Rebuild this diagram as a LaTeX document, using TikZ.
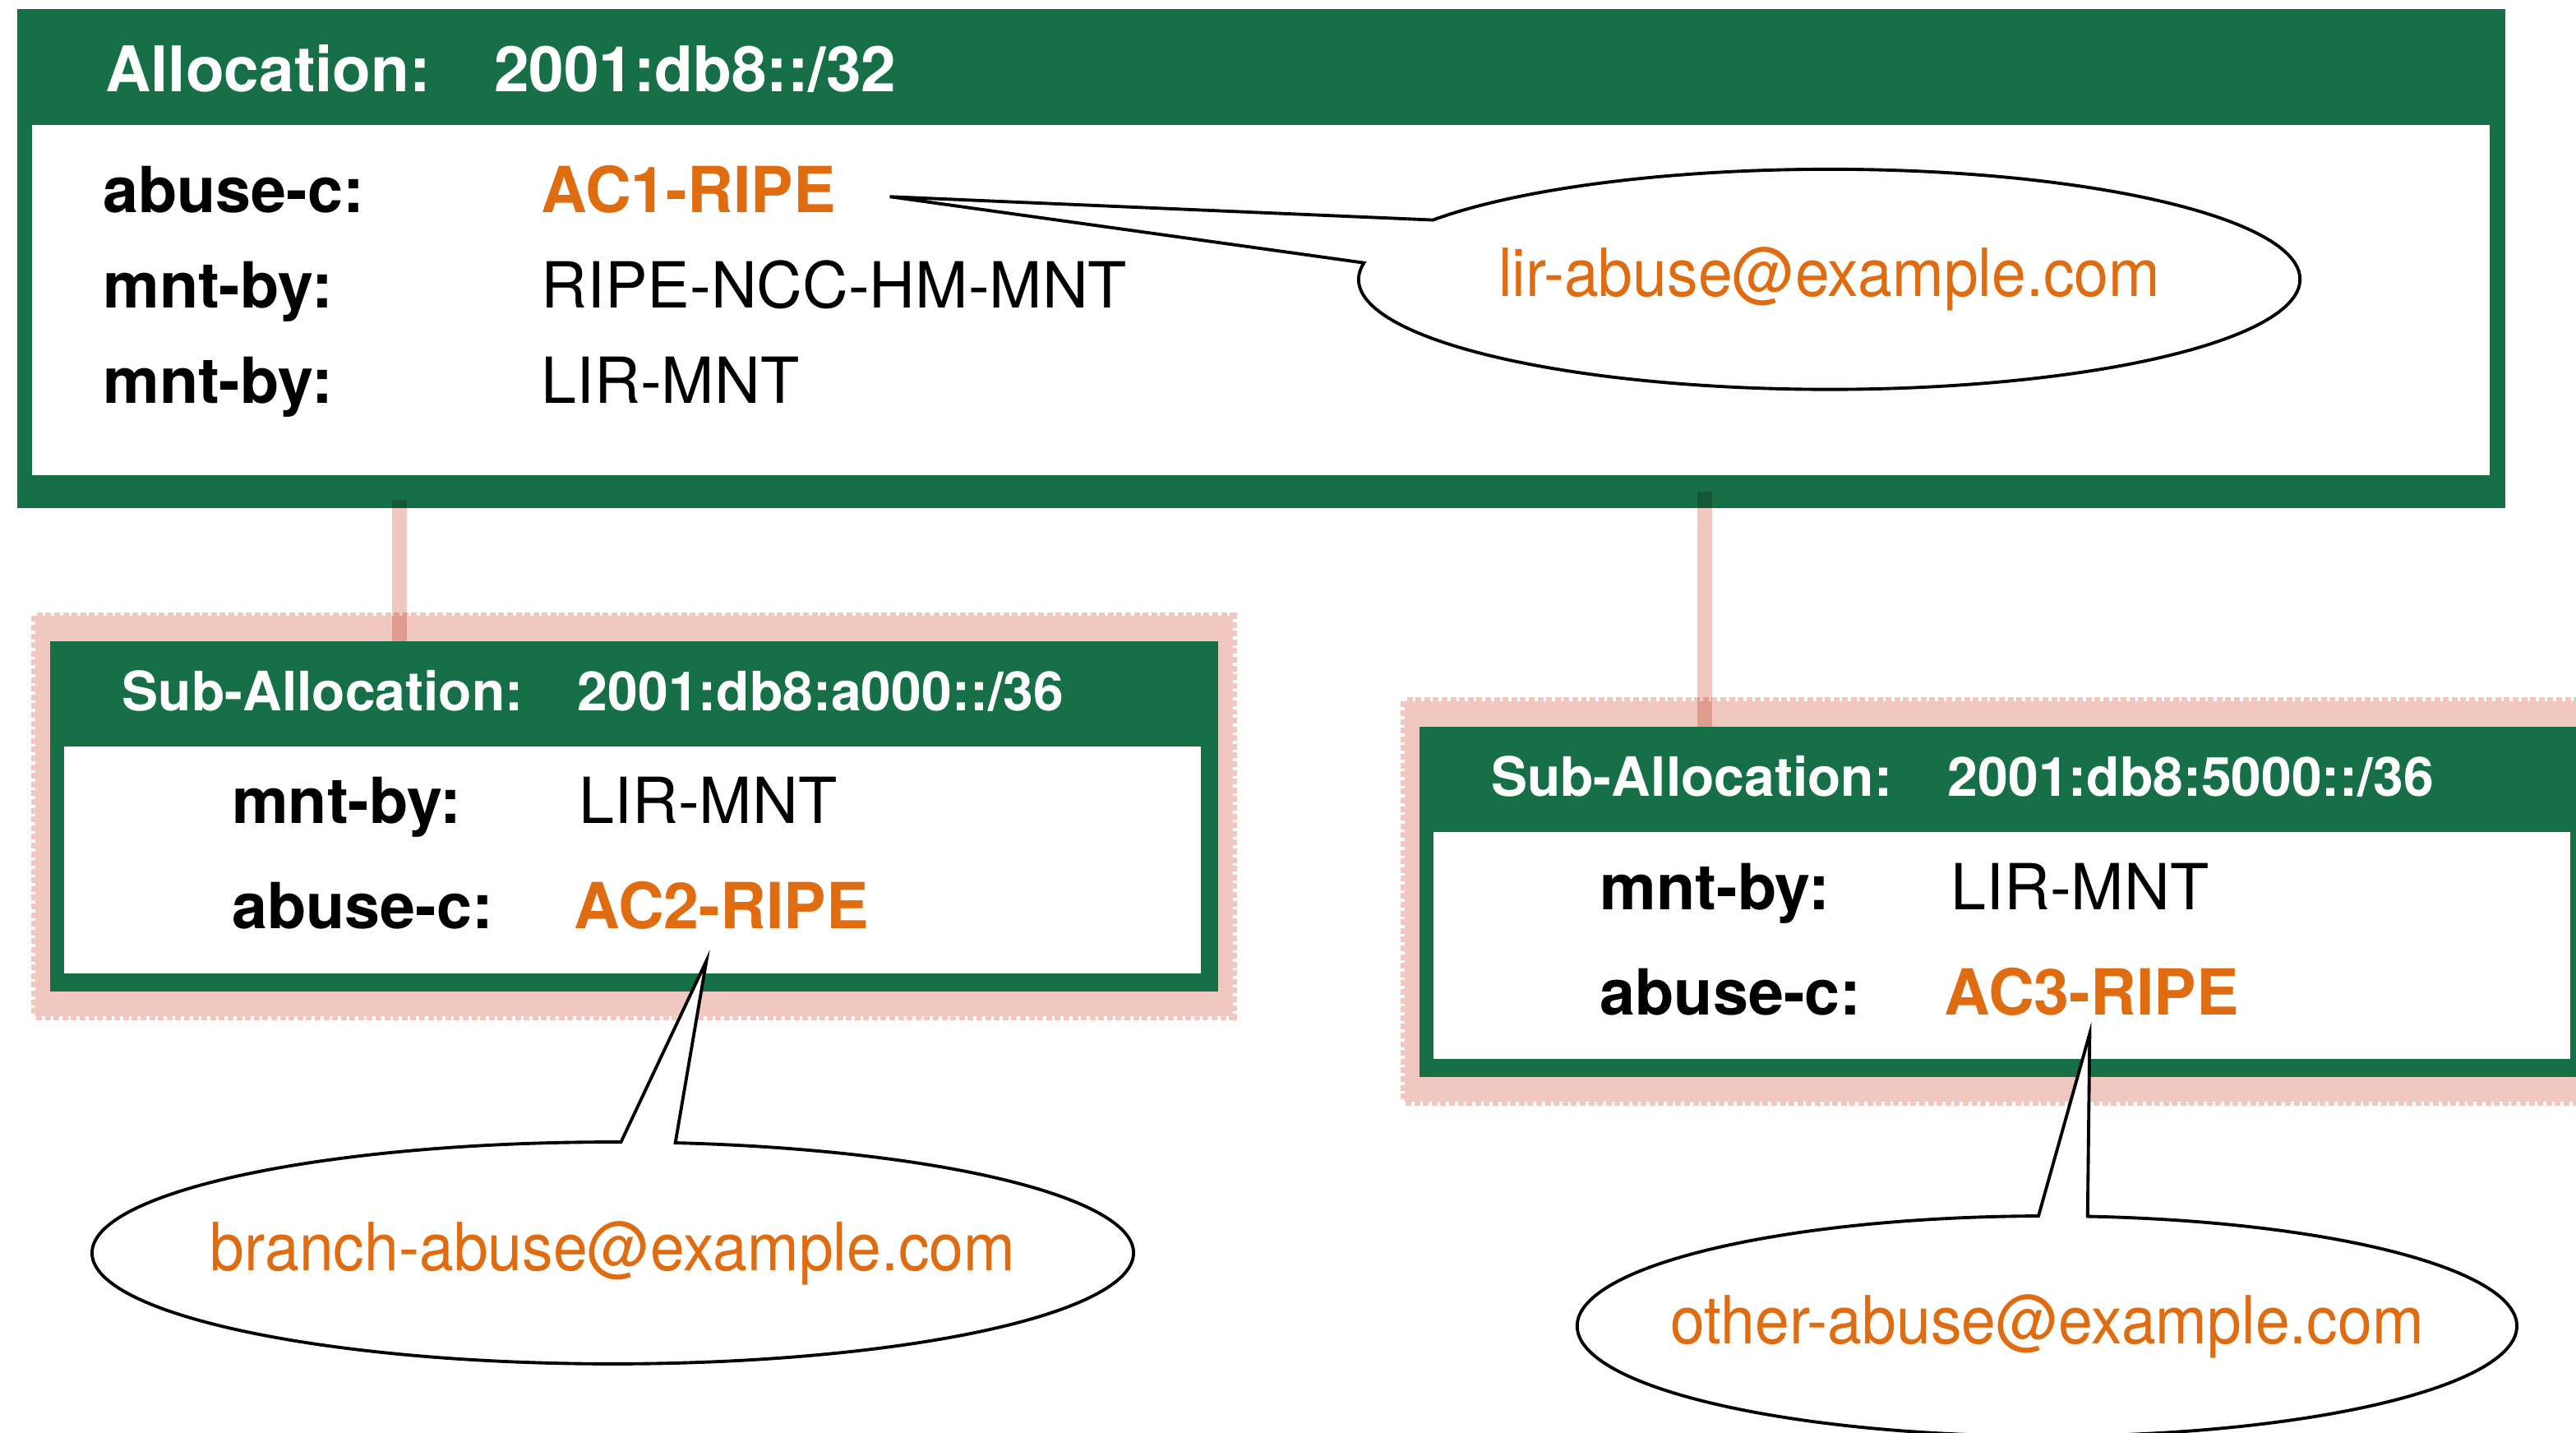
\documentclass[tikz,border=0pt]{standalone}
\usepackage{fontspec}
\setmainfont{TeX Gyre Heros}
\newfontfamily\mailfont[FakeStretch=0.93]{TeX Gyre Heros}
\usetikzlibrary{shapes.callouts}

\definecolor{ripegreen}{RGB}{22,111,71}
\definecolor{ripeorange}{RGB}{224,108,18}
\definecolor{subpink}{RGB}{240,200,192}

\tikzset{
  head/.style={anchor=base west,inner sep=0pt,text=white,font=\fontsize{10.9}{13}\selectfont\bfseries},
  subhead/.style={head,font=\fontsize{9.4}{11}\selectfont\bfseries},
  fieldkey/.style={anchor=base west,inner sep=0pt,font=\fontsize{11}{13}\selectfont\bfseries},
  fieldval/.style={anchor=base west,inner sep=0pt,font=\fontsize{11}{13}\selectfont},
  contact/.style={fieldkey,text=ripeorange},
  subframe/.style={fill=subpink,draw=subpink,line width=0.5mm,dash pattern=on 0.35mm off 0.18mm},
  link/.style={subpink,line width=0.9mm},
  mailbox/.style={ellipse callout,draw=black,fill=white,line width=0.55pt,inner sep=0pt,text=ripeorange,font=\mailfont\fontsize{11.5}{14}\selectfont},
}
\newcommand\mailtext[1]{\makebox[0pt]{\raisebox{-0.65mm}{#1}}}

\begin{document}
\begin{tikzpicture}[x=0.1mm,y=-0.1mm]
\useasboundingbox (0,0) rectangle (1568,872);
% main allocation box
\coordinate (M1) at (10.5,5.5);
\coordinate (M2) at (1525,309);
\coordinate (M3) at (19.5,76);
\coordinate (M4) at (1515.5,289);
% sub-allocation boxes
\coordinate (P1) at (21.5,375);
\coordinate (P2) at (750.3,618.3);
\coordinate (S1) at (30.5,390.5);
\coordinate (S2) at (741.5,603.5);
\coordinate (W1) at (39,454.5);
\coordinate (W2) at (731,592.5);
\coordinate (Q1) at (855,427);
\coordinate (Q2) at (1600,670.2);
\coordinate (T1) at (864,442.5);
\coordinate (T2) at (1600,655.5);
\coordinate (V1) at (872.5,506.5);
\coordinate (V2) at (1564.3,644.5);
% links and callout tips
\coordinate (L1a) at (243,304);
\coordinate (L1b) at (243,390.5);
\coordinate (L2a) at (1037.5,299);
\coordinate (L2b) at (1037.5,442.5);
\coordinate (tip1) at (541.6,119.7);
\coordinate (tip2) at (430,584.7);
\coordinate (tip3) at (1272,629);

\fill[ripegreen] (M1) rectangle (M2);
\fill[white] (M3) rectangle (M4);
\draw[subframe] (P1) rectangle (P2);
\draw[subframe] (Q1) rectangle (Q2);
\begin{scope}[blend mode=multiply]
\foreach \a/\b in {L1a/L1b,L2a/L2b}
  \draw[link] (\a)--(\b);
\end{scope}
\fill[ripegreen] (S1) rectangle (S2);
\fill[white] (W1) rectangle (W2);
\fill[ripegreen] (T1) rectangle (T2);
\fill[white] (V1) rectangle (V2);

\node[head] (allochead) at (63.5,55.8) {Allocation:};
\node[head] (allocpfx) at (300,55.8) {2001:db8::/32};
\node[fieldkey] (abuse1) at (62,129.5) {abuse-c:};
\node[contact] (ac1) at (329,129.5) {AC1-RIPE};
\node[fieldkey] (mnt1) at (62,187.5) {mnt-by:};
\node[fieldval] (mntval1) at (329,187.5) {RIPE-NCC-HM-MNT};
\node[fieldkey] (mnt2) at (62,245.5) {mnt-by:};
\node[fieldval] (mntval2) at (329,245.5) {LIR-MNT};

\node[subhead] (sub1head) at (73.7,432.5) {Sub-Allocation:};
\node[subhead] (sub1pfx) at (351,432.5) {2001:db8:a000::/36};
\node[fieldkey] (sub1mnt) at (140.5,501) {mnt-by:};
\node[fieldval] (sub1mntval) at (352,501) {LIR-MNT};
\node[fieldkey] (sub1abuse) at (140.5,565) {abuse-c:};
\node[contact] (ac2) at (349,565) {AC2-RIPE};

\node[subhead] (sub2head) at (907,484.5) {Sub-Allocation:};
\node[subhead] (sub2pfx) at (1185,484.5) {2001:db8:5000::/36};
\node[fieldkey] (sub2mnt) at (973.3,553.5) {mnt-by:};
\node[fieldval] (sub2mntval) at (1187,553.5) {LIR-MNT};
\node[fieldkey] (sub2abuse) at (973.3,617.5) {abuse-c:};
\node[contact] (ac3) at (1183,617.5) {AC3-RIPE};

\node[mailbox,minimum width=57.3mm,minimum height=13.4mm,callout pointer arc=24,
  callout absolute pointer={(tip1)}] (mail1) at (1113.5,170) {\mailtext{lir-abuse@example.com}};
\node[mailbox,minimum width=63.4mm,minimum height=13.5mm,callout pointer arc=6,
  callout absolute pointer={(tip2)}] (mail2) at (373,762.5) {\mailtext{branch-abuse@example.com}};
\node[mailbox,minimum width=57.2mm,minimum height=13.4mm,callout pointer arc=6,
  callout absolute pointer={(tip3)}] (mail3) at (1246,807) {\mailtext{other-abuse@example.com}};
\end{tikzpicture}
\end{document}
